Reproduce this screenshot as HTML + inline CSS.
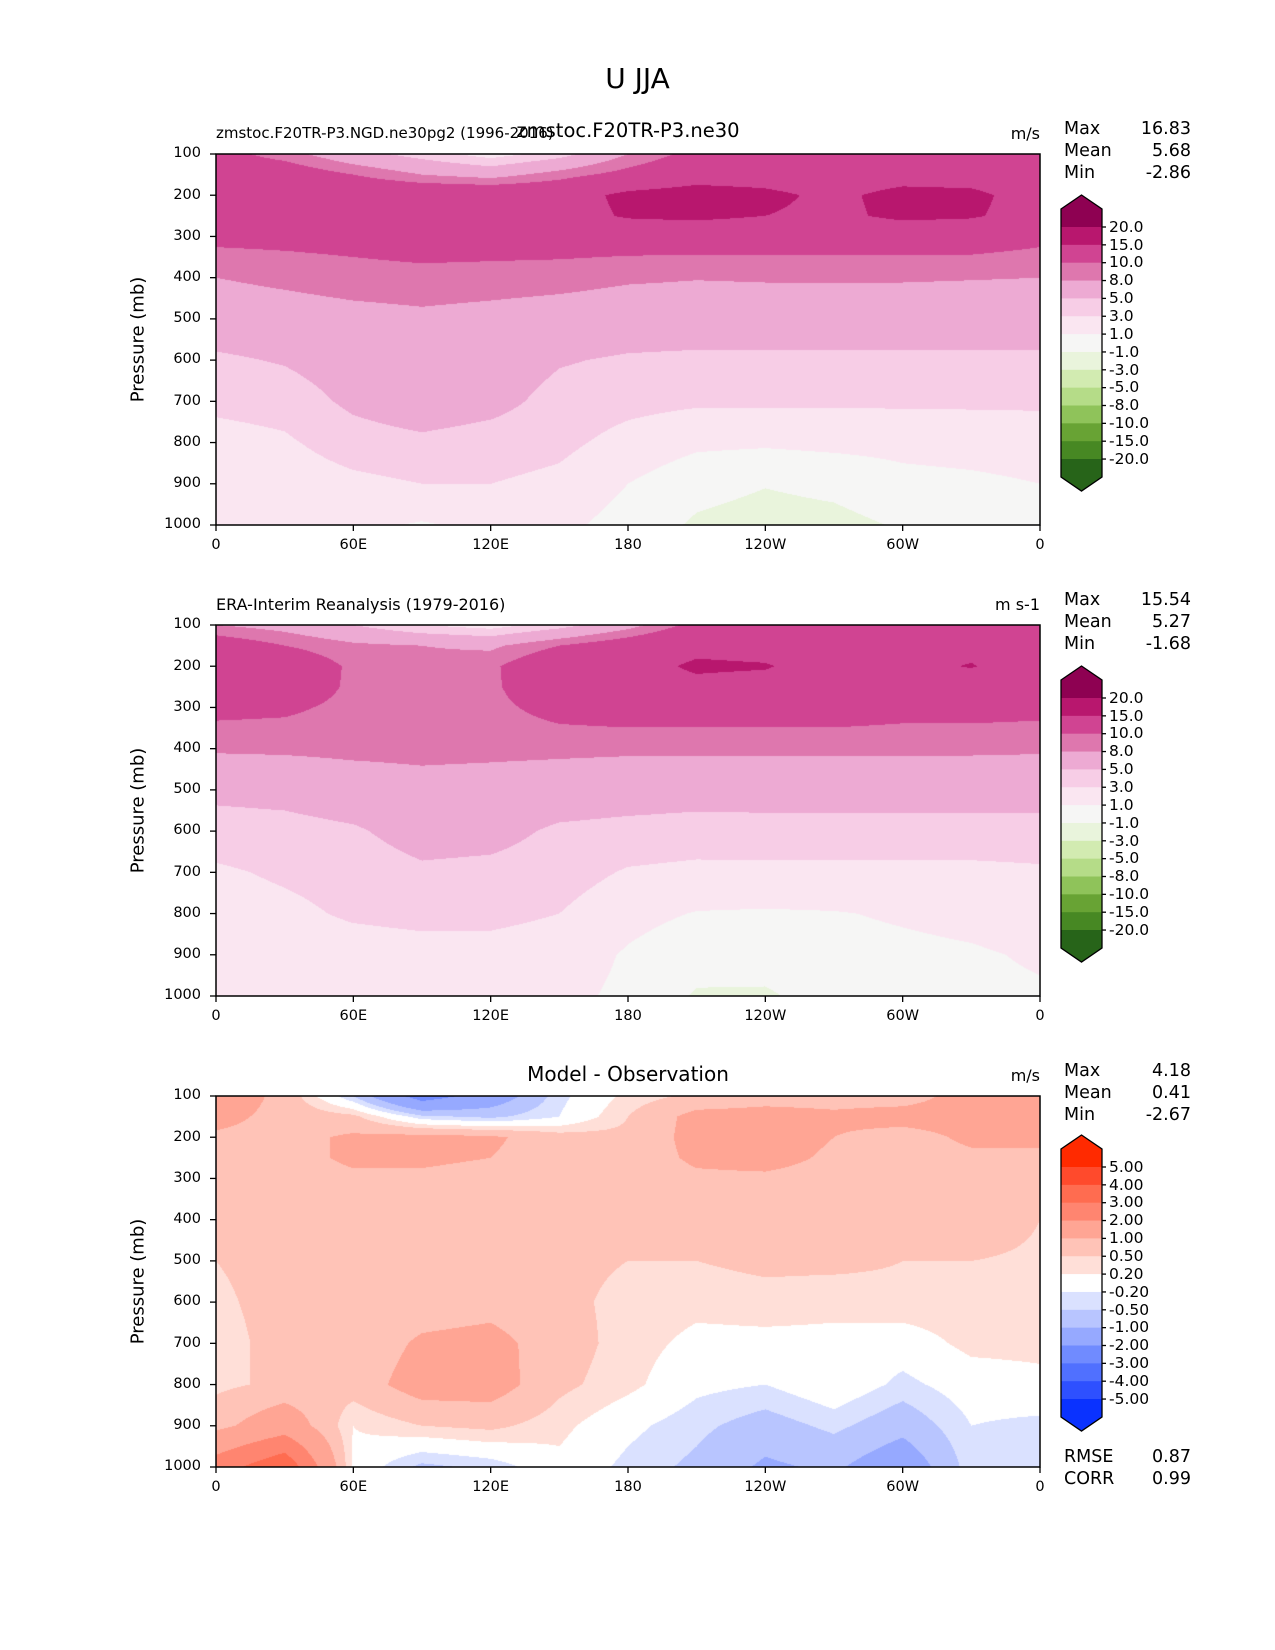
<!DOCTYPE html>
<html><head><meta charset="utf-8">
<style>
body{margin:0;background:#fff;}
#root{position:relative;width:1275px;height:1650px;background:#fff;font-family:"DejaVu Sans","Liberation Sans",sans-serif;color:#000;overflow:hidden;}
.t{position:absolute;white-space:nowrap;}
canvas{position:absolute;}
svg{position:absolute;left:0;top:0;}
</style></head>
<body>
<div id="root">
<div class="t" style="left:0;width:1275px;text-align:center;top:62px;font-size:28px;">U JJA</div>
</div>
<script>
// ---------- data ----------
const lons = [0,30,60,90,120,150,180,210,240,270,300,330,360];
const pres = [100,150,200,250,300,400,500,600,700,800,900,1000];
const modelU = [
[11,9,6,4,2,4,8,11,11,11,11,11,11],
[12,12,10,8,7,9,11,13,13,12,13,13,12],
[13,13,13,13,13,13,16,17,16,14,16.5,16,13],
[13,13,13,13,13,13,15.5,16,15,14,16,15.5,13],
[10.7,10.8,11,11.5,11.5,11.5,11.5,11.5,11.5,11.5,11.5,11.5,10.7],
[8,8.5,9,9.2,9,8.8,8.3,8.1,8.2,8.2,8.2,8.1,8],
[6.5,6.8,7.2,7.5,7.2,6.8,6.5,6.5,6.5,6.5,6.5,6.5,6.5],
[4.6,5.2,6.3,7,6.5,5.2,4.7,4.5,4.5,4.5,4.5,4.5,4.5],
[3.5,3.8,5.5,6.5,5.8,4.2,3.6,3.3,3.3,3.3,3.3,3.3,3.3],
[2.2,2.7,4,4.5,4,3.5,2.3,1.4,1.3,1.5,1.6,1.8,2],
[1.5,1.8,2.5,3,3,2.5,1,-0.3,-0.9,-0.5,0.4,0.6,1],
[1.2,2,1.5,0.8,1.5,1.5,0.2,-1.3,-1.8,-1.6,-0.8,-0.5,0.5]];
const obsU = [
[8,7,5,3,2,4,7,11,11,11,11,11,11],
[12,10,8.5,8,7.5,10,12,14,13.5,13,13.5,14,12],
[13,12.5,9.5,8.8,9.5,13,13.5,15.6,15.3,13,14,15.2,13],
[12.5,12,9.5,8.8,9.5,12.5,13,14,13.5,12.5,13,13,12.5],
[10.8,10.5,9.3,8.8,9.3,11,11.5,11.5,11.5,11.5,11,11,10.8],
[8.3,8.4,8.6,8.7,8.6,8.5,8.4,8.4,8.4,8.4,8.4,8.4,8.3],
[5.6,5.8,6.5,7,6.8,6.5,6.2,6,6,6,6,6,6],
[4,4.2,4.7,6,5.8,4.6,4.3,4.1,4.2,4.2,4.2,4.2,4.2],
[2.7,3.3,3.8,4.6,4.4,3.9,2.8,2.5,2.5,2.5,2.5,2.5,2.7],
[2,2.5,3.3,3.6,3.5,3,1.6,0.9,0.8,0.9,1.2,1.5,1.9],
[1.5,1.8,2,2.2,2.3,2,0.8,-0.2,0,0.4,0.6,0.8,1.2],
[1.3,1.5,1.6,1.6,1.8,1.5,0.6,-1.2,-1.3,0,0.3,0.6,0.8]];
const diffU = [
[1.5,0.8,-0.5,-2.5,-1.5,-0.3,0.3,0.6,0.8,0.8,0.8,1.2,1.2],
[1.2,0.8,0.6,-0.4,-0.6,-0.2,0.5,1.2,1.2,1.1,1.2,1.2,1.2],
[0.9,0.8,1.1,1.2,1.1,0.7,0.6,1.2,1.3,1,0.8,1.1,1.1],
[0.8,0.8,1.1,1.1,1,0.7,0.7,1.1,1.2,0.9,0.8,0.9,0.9],
[0.7,0.8,0.9,0.9,0.8,0.7,0.7,0.9,0.9,0.8,0.7,0.7,0.6],
[0.6,0.7,0.7,0.7,0.7,0.7,0.6,0.7,0.7,0.7,0.7,0.7,0.5],
[0.5,0.6,0.6,0.6,0.7,0.6,0.5,0.5,0.6,0.6,0.5,0.5,0.45],
[0.45,0.6,0.6,0.7,0.8,0.6,0.4,0.3,0.35,0.3,0.4,0.4,0.4],
[0.4,0.6,0.6,1.1,1.2,0.7,0.35,0.1,0.1,0.1,0,0.3,0.3],
[0.4,0.6,0.7,1.3,1.3,0.6,0.3,-0.1,-0.2,0.1,-0.3,0,0.1],
[0.8,1.5,0.2,0.5,0.6,0.3,-0.1,-0.4,-0.7,-0.4,-0.8,-0.2,-0.3],
[2.5,3.8,0.1,-0.6,-0.4,0.1,-0.3,-0.6,-1.1,-0.9,-1.5,-0.3,-0.5]];
const uLevels = [-20,-15,-10,-8,-5,-3,-1,1,3,5,8,10,15,20];
const uLabels = ["20.0","15.0","10.0","8.0","5.0","3.0","1.0","-1.0","-3.0","-5.0","-8.0","-10.0","-15.0","-20.0"];
const uColors = ['#276419','#478823','#68a334','#8fc35a','#b5dc88','#d2ebb1','#e9f4dc','#f6f6f5','#fae6f1','#f7cde6','#edaad3','#de77ae','#d04492','#b8176e','#8e0152'];
const dLevels = [-5,-4,-3,-2,-1,-0.5,-0.2,0.2,0.5,1,2,3,4,5];
const dLabels = ["5.00","4.00","3.00","2.00","1.00","0.50","0.20","-0.20","-0.50","-1.00","-2.00","-3.00","-4.00","-5.00"];
const dColors = ['#0a32ff','#2e50ff','#5070ff','#708bff','#96a9ff','#b8c5ff','#dae1ff','#ffffff','#ffdfd8','#ffc3b7','#ffa594','#ff8570','#ff6c50','#ff4a2c','#ff2a00'];
const yTicks = [100,200,300,400,500,600,700,800,900,1000];
const xTickVals = [0,60,120,180,240,300,360];
const xTickLabels = ["0","60E","120E","180","120W","60W","0"];

// ---------- layout ----------
const X0=216, X1=1040;
const panels = [
 {top:154, grid:modelU, levels:uLevels, colors:uColors, labels:uLabels, cbTip:195, stats:["16.83","5.68","-2.86"], name:"model"},
 {top:625, grid:obsU, levels:uLevels, colors:uColors, labels:uLabels, cbTip:666, stats:["15.54","5.27","-1.68"], name:"obs"},
 {top:1096, grid:diffU, levels:dLevels, colors:dColors, labels:dLabels, cbTip:1135, stats:["4.18","0.41","-2.67"], name:"diff"}
];
const PH=371;
const root=document.getElementById('root');
const NS='http://www.w3.org/2000/svg';
const svg=document.createElementNS(NS,'svg');
svg.setAttribute('width','1275');svg.setAttribute('height','1650');
root.appendChild(svg);

function xScale(lon){return X0+(lon/360)*(X1-X0);}
function yScale(p,top){return top+((p-100)/900)*PH;}
function hex(c){return [parseInt(c.substr(1,2),16),parseInt(c.substr(3,2),16),parseInt(c.substr(5,2),16)];}
function sample(grid,lon,p){
  let i=Math.min(Math.floor(lon/30),11); let fx=(lon-lons[i])/30;
  let j=0; while(j<pres.length-2 && p>pres[j+1]) j++;
  let fy=(p-pres[j])/(pres[j+1]-pres[j]);
  const a=grid[j][i],b=grid[j][i+1],c=grid[j+1][i],d=grid[j+1][i+1];
  return (a*(1-fx)+b*fx)*(1-fy)+(c*(1-fx)+d*fx)*fy;
}
function levelIndex(v,levels){let k=0;while(k<levels.length&&v>=levels[k])k++;return k;}
function txt(s,x,y,size,anchor,name){
  const d=document.createElement('div');d.className='t';d.textContent=s;
  
  
  d.style.fontSize=size+'px';d.style.top=(y-size*0.6)+'px';
  if(anchor==='end'){d.style.right=(1275-x)+'px';}
  else if(anchor==='middle'){d.style.left=(x-300)+'px';d.style.width='600px';d.style.textAlign='center';}
  else d.style.left=x+'px';
  root.appendChild(d);return d;
}
function line(x1,y1,x2,y2,name){
  const l=document.createElementNS(NS,'line');
  l.setAttribute('x1',x1);l.setAttribute('y1',y1);l.setAttribute('x2',x2);l.setAttribute('y2',y2);
  l.setAttribute('stroke','#000');l.setAttribute('stroke-width','1.3');
  
  
  svg.appendChild(l);
}

panels.forEach(P=>{
  const cv=document.createElement('canvas');
  
  
  const W=X1-X0;cv.width=W;cv.height=PH;
  cv.style.left=X0+'px';cv.style.top=P.top+'px';
  root.insertBefore(cv,svg);
  const ctx=cv.getContext('2d');const img=ctx.createImageData(W,PH);
  const rgb=P.colors.map(hex);
  for(let py=0;py<PH;py++){
    const p=100+(py+0.5)/PH*900;
    for(let px=0;px<W;px++){
      const lon=(px+0.5)/W*360;
      const c=rgb[levelIndex(sample(P.grid,lon,p),P.levels)];
      const o=(py*W+px)*4;img.data[o]=c[0];img.data[o+1]=c[1];img.data[o+2]=c[2];img.data[o+3]=255;
    }
  }
  ctx.putImageData(img,0,0);
  const r=document.createElementNS(NS,'rect');
  r.setAttribute('x',X0);r.setAttribute('y',P.top);r.setAttribute('width',X1-X0);r.setAttribute('height',PH);
  r.setAttribute('fill','none');r.setAttribute('stroke','#000');r.setAttribute('stroke-width','1.5');
  
  
  svg.appendChild(r);
  yTicks.forEach(v=>{const y=yScale(v,P.top);line(X0-6,y,X0,y,'y-tick');txt(String(v),201,y,14.5,'end','y-tick-label');});
  xTickVals.forEach((v,i)=>{const x=xScale(v);line(x,P.top+PH,x,P.top+PH+6,'x-tick');txt(xTickLabels[i],x,P.top+PH+21,14.5,'middle','x-tick-label');});
  const yl=txt('Pressure (mb)',138,P.top+PH/2,18,'middle','y-axis-title');
  yl.style.transform='rotate(-90deg)';
  ['Max','Mean','Min'].forEach((s,i)=>{
    txt(s,1064,P.top-25+i*22,17.5,'start','stat-label-'+s.toLowerCase());
    txt(P.stats[i],1191,P.top-25+i*22,17.5,'end','stat-value-'+s.toLowerCase());
  });
  const cx0=1061,cx1=1102,tip=P.cbTip,bTop=tip+14,b0=tip+32,step=17.85;
  const n=P.levels.length;
  const desc=P.colors.slice().reverse();
  const bBot=b0+step*(n-1)+18, tipB=bBot+14;
  function poly(pts,fill,name){const g=document.createElementNS(NS,'polygon');g.setAttribute('points',pts);g.setAttribute('fill',fill);g.setAttribute('stroke','none');
    
    
    svg.appendChild(g);}
  poly(`${cx0},${bTop} ${(cx0+cx1)/2},${tip} ${cx1},${bTop} ${cx1},${b0} ${cx0},${b0}`,desc[0],'colorbar-extend-top');
  for(let k=0;k<n-1;k++){
    const rr=document.createElementNS(NS,'rect');
    rr.setAttribute('x',cx0);rr.setAttribute('y',b0+step*k);rr.setAttribute('width',cx1-cx0);rr.setAttribute('height',step+0.5);
    rr.setAttribute('fill',desc[k+1]);
    
    
    svg.appendChild(rr);
  }
  const bl=b0+step*(n-1);
  poly(`${cx0},${bl} ${cx1},${bl} ${cx1},${bBot} ${(cx0+cx1)/2},${tipB} ${cx0},${bBot}`,desc[desc.length-1],'colorbar-extend-bottom');
  const ol=document.createElementNS(NS,'polygon');
  ol.setAttribute('points',`${cx0},${bTop} ${(cx0+cx1)/2},${tip} ${cx1},${bTop} ${cx1},${bBot} ${(cx0+cx1)/2},${tipB} ${cx0},${bBot}`);
  ol.setAttribute('fill','none');ol.setAttribute('stroke','#000');ol.setAttribute('stroke-width','1.3');
  
  
  svg.appendChild(ol);
  P.labels.forEach((s,k)=>{const y=b0+step*k;line(cx1,y,cx1+4,y,'colorbar-tick');txt(s,1109,y,15.5,'start','colorbar-label');});
});

txt('zmstoc.F20TR-P3.NGD.ne30pg2 (1996-2016)',216,133,15,'start','model-case-title');
txt('zmstoc.F20TR-P3.ne30',628,131,19.5,'middle','model-title');
txt('m/s',1040,134,16,'end','model-units');
txt('ERA-Interim Reanalysis (1979-2016)',216,605,16,'start','obs-title');
txt('m s-1',1040,605,16,'end','obs-units');
txt('Model - Observation',628,1074,20,'middle','diff-title');
txt('m/s',1040,1076,16,'end','diff-units');
txt('RMSE',1064,1457,17.5,'start','rmse-label');
txt('0.87',1191,1457,17.5,'end','rmse-value');
txt('CORR',1064,1479,17.5,'start','corr-label');
txt('0.99',1191,1479,17.5,'end','corr-value');
</script>
</body></html>
